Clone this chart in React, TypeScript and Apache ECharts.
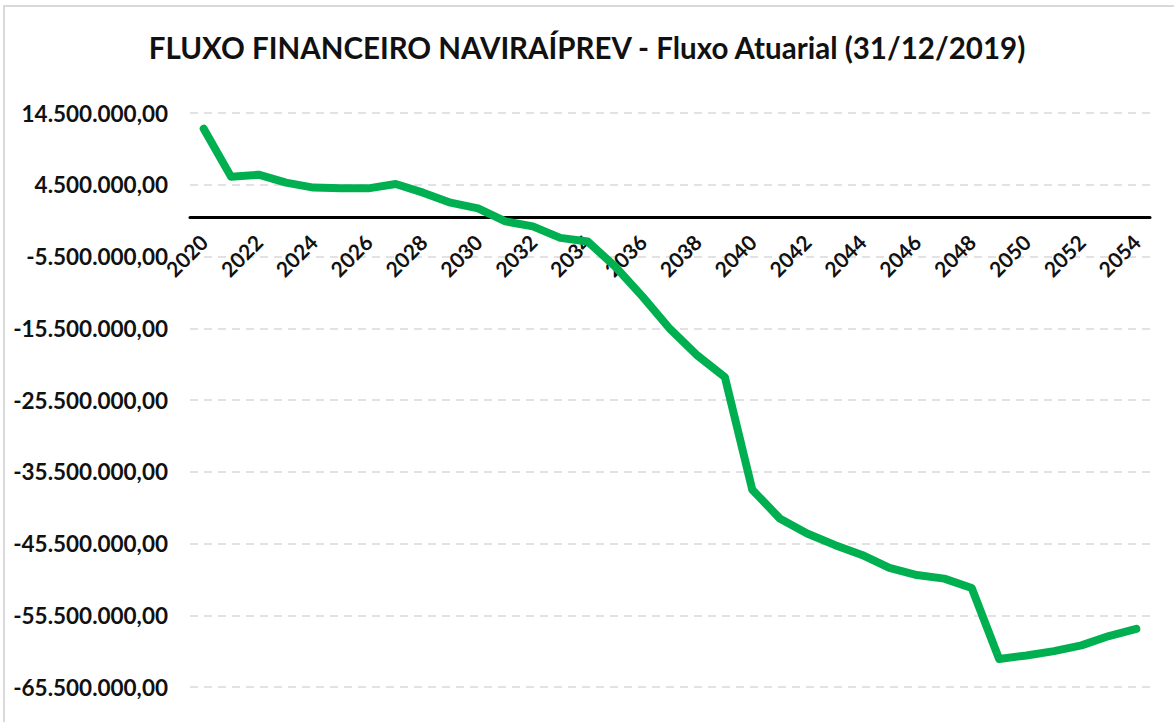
import React, { useEffect, useRef } from "react";
import * as echarts from "echarts";

const title = "FLUXO FINANCEIRO NAVIRAÍPREV - Fluxo Atuarial (31/12/2019)";
const years: string[] = [];
for (let y = 2020; y <= 2054; y++) years.push(String(y));
const fluxo = [
  12.3, 5.6, 5.9, 4.8, 4.1, 4.0, 4.0, 4.6, 3.4, 2.0,
  1.2, -0.6, -1.3, -2.9, -3.4, -6.9, -11.1, -15.6, -19.3, -22.3,
  -38.0, -42.0, -44.1, -45.7, -47.1, -48.9, -49.9, -50.4, -51.7, -61.6,
  -61.1, -60.5, -59.7, -58.4, -57.4,
].map((v) => v * 1000000);
const yMin = -65500000;
const yMax = 14500000;
const yStep = 10000000;

function fmtBR(v: number): string {
  const neg = v < 0;
  const abs = Math.abs(Math.round(v));
  const s = String(abs).replace(/\B(?=(\d{3})+(?!\d))/g, ".");
  return (neg ? "-" : "") + s + ",00";
}

const GRID_TOP = 113;
const GRID_BOTTOM = 35;
const H = 722;

export default function App() {
  const ref = useRef<HTMLDivElement>(null);
  useEffect(() => {
    if (!ref.current) return;
    const chart = echarts.init(ref.current, null, { renderer: "svg" });
    const font = "Lato, 'Noto Sans', sans-serif";
    const gridH = H - GRID_TOP - GRID_BOTTOM;
    const zeroFromBottom = (gridH * (0 - yMin)) / (yMax - yMin);
    chart.setOption({
      animation: false,
      backgroundColor: "#ffffff",
      textStyle: { fontFamily: font },
      title: {
        text: title,
        left: "center",
        top: 27,
        textStyle: { fontFamily: font, fontSize: 29.5, fontWeight: "bold", color: "#111" },
      },
      graphic: [
        {
          type: "rect",
          shape: { x: 4, y: 6, width: 1180, height: 730 },
          style: { fill: "none", stroke: "#d9d9d9", lineWidth: 2 },
          silent: true,
        },
      ],
      grid: { left: 190, right: 24, top: GRID_TOP, bottom: GRID_BOTTOM, containLabel: false },
      xAxis: {
        type: "category",
        data: years,
        boundaryGap: true,
        offset: -zeroFromBottom,
        axisLine: { onZero: false, lineStyle: { color: "#000", width: 3 } },
        axisTick: { show: false },
        axisLabel: {
          interval: 1,
          rotate: 45,
          margin: 21,
          fontSize: 21,
          fontWeight: "bold",
          color: "#111",
          fontFamily: font,
        },
        splitLine: { show: false },
      },
      yAxis: {
        type: "value",
        min: yMin,
        max: yMax,
        interval: yStep,
        axisLine: { show: false },
        axisTick: { show: false },
        axisLabel: {
          formatter: (v: number) => fmtBR(v),
          fontSize: 22.5,
          fontWeight: "bold",
          color: "#111",
          margin: 22,
          fontFamily: font,
        },
        splitLine: { lineStyle: { color: "#d9d9d9", type: [8, 6], width: 1.5 } },
      },
      series: [
        {
          type: "line",
          data: fluxo,
          showSymbol: false,
          symbol: "none",
          z: 3,
          lineStyle: { color: "#00b050", width: 8, join: "round", cap: "round" },
          itemStyle: { color: "#00b050" },
        },
      ],
    });
    return () => chart.dispose();
  }, []);
  return (
    <div
      ref={ref}
      style={{ position: "absolute", left: 0, top: 0, width: 1174, height: 722 }}
    />
  );
}
